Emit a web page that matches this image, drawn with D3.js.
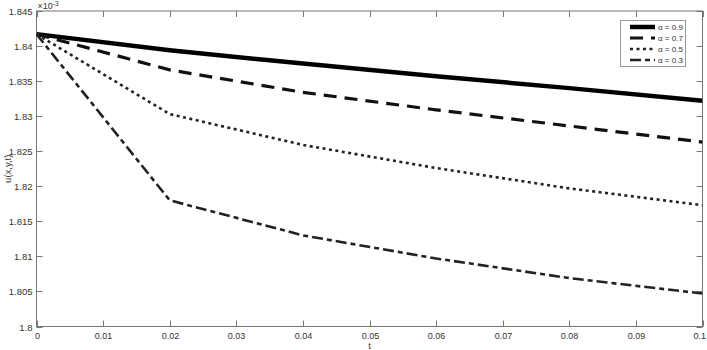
<!DOCTYPE html>
<html lang="en">
  <head>
    <meta charset="UTF-8" />
    <title>u(x,y,t)</title>
    <style>
      body { margin: 0; background: #fff; }
      text { font-family: "Liberation Sans", Arial, sans-serif; }
    </style>
  </head>
  <body>
    <svg width="707" height="350"></svg>
    <script src="https://cdnjs.cloudflare.com/ajax/libs/d3/7.8.5/d3.min.js"></script>
    <script>
      // values are in units of 1e-3
      var tValues = [0, 0.02, 0.04, 0.06, 0.08, 0.1];
      var alpha09 = [1.8417, 1.8394, 1.8375, 1.8357, 1.834, 1.8322];
      var alpha07 = [1.8417, 1.8366, 1.8334, 1.8309, 1.8286, 1.8263];
      var alpha05 = [1.8417, 1.8303, 1.8259, 1.8226, 1.8197, 1.8173];
      var alpha03 = [1.8417, 1.818, 1.813, 1.8097, 1.8069, 1.8047];
      var seriesNames = ["α = 0.9", "α = 0.7", "α = 0.5", "α = 0.3"];
      var xTicks = [0, 0.01, 0.02, 0.03, 0.04, 0.05, 0.06, 0.07, 0.08, 0.09, 0.1];
      var yTicks = [1.8, 1.805, 1.81, 1.815, 1.82, 1.825, 1.83, 1.835, 1.84, 1.845];

      var svg = d3.select("svg");
      var mLeft = 36.5, mRight = 702.5, mTop = 11, mBottom = 326.5;

      var x = d3.scaleLinear().domain([0, 0.1]).range([mLeft, mRight]);
      var y = d3.scaleLinear().domain([1.8, 1.845]).range([mBottom, mTop]);

      var styles = [
        { w: 4.5, dash: null, color: "#000" },
        { w: 3.2, dash: "13,8", color: "#111" },
        { w: 2.6, dash: "3,3.5", color: "#222" },
        { w: 2.6, dash: "11,4,5,4", color: "#222" }
      ];
      var series = [alpha09, alpha07, alpha05, alpha03];

      var axisColor = "#777";
      var fmt = function (d) { return String(+d.toFixed(3)); };

      // box
      svg.append("rect")
        .attr("x", mLeft).attr("y", mTop)
        .attr("width", mRight - mLeft).attr("height", mBottom - mTop)
        .attr("fill", "none").attr("stroke", axisColor).attr("stroke-width", 1);

      var tickLen = 6;
      var gx = svg.append("g");
      xTicks.forEach(function (d, i) {
        var px = Math.round(x(d)) + 0.5;
        var last = i === xTicks.length - 1;
        gx.append("line").attr("x1", px).attr("x2", px).attr("y1", mBottom).attr("y2", mBottom - tickLen).attr("stroke", axisColor);
        gx.append("line").attr("x1", px).attr("x2", px).attr("y1", mTop).attr("y2", mTop + tickLen).attr("stroke", axisColor);
        gx.append("text").attr("x", last ? 706 : px).attr("y", mBottom + 12)
          .attr("text-anchor", last ? "end" : "middle")
          .attr("font-size", 9).attr("fill", "#333").text(fmt(d));
      });
      var gy = svg.append("g");
      yTicks.forEach(function (d) {
        var py = Math.round(y(d)) + 0.5;
        gy.append("line").attr("x1", mLeft).attr("x2", mLeft + tickLen).attr("y1", py).attr("y2", py).attr("stroke", axisColor);
        gy.append("line").attr("x1", mRight).attr("x2", mRight - tickLen).attr("y1", py).attr("y2", py).attr("stroke", axisColor);
        gy.append("text").attr("x", mLeft - 4).attr("y", py + 3.5).attr("text-anchor", "end")
          .attr("font-size", 9.5).attr("fill", "#333").text(fmt(d));
      });

      // exponent
      var ex = svg.append("text").attr("x", mLeft + 1).attr("y", 9).attr("font-size", 9).attr("fill", "#333");
      ex.append("tspan").text("×10");
      ex.append("tspan").attr("dy", -3).attr("font-size", 6.5).text("-3");

      // labels
      svg.append("text").attr("x", x(0.05)).attr("y", 349).attr("text-anchor", "middle")
        .attr("font-size", 9.5).attr("fill", "#333").text("t");
      svg.append("text").attr("transform", "translate(11," + (mTop + mBottom) / 2 + ") rotate(-90)")
        .attr("text-anchor", "middle").attr("font-size", 9.5).attr("fill", "#333").text("u(x,y,t)");

      var line = d3.line().x(function (d, i) { return x(tValues[i]); }).y(function (d) { return y(d); });

      svg.append("defs").append("clipPath").attr("id", "clip").append("rect")
        .attr("x", mLeft).attr("y", mTop).attr("width", mRight - mLeft).attr("height", mBottom - mTop);

      series.forEach(function (s, i) {
        svg.append("path").datum(s)
          .attr("d", line)
          .attr("fill", "none")
          .attr("stroke", styles[i].color)
          .attr("stroke-width", styles[i].w)
          .attr("stroke-dasharray", styles[i].dash)
          .attr("clip-path", "url(#clip)");
      });

      // legend
      var lg = svg.append("g").attr("transform", "translate(620,20)");
      lg.append("rect").attr("x", 0.5).attr("y", 0.5).attr("width", 65).attr("height", 46)
        .attr("fill", "#fff").attr("stroke", "#999");
      seriesNames.forEach(function (name, i) {
        var ly = 7 + i * 11;
        lg.append("line").attr("x1", 10).attr("x2", 35).attr("y1", ly).attr("y2", ly)
          .attr("stroke", styles[i].color).attr("stroke-width", styles[i].w)
          .attr("stroke-dasharray", styles[i].dash);
        lg.append("text").attr("x", 38).attr("y", ly + 3).attr("font-size", 8).attr("fill", "#333").text(name);
      });
    </script>
  </body>
</html>
